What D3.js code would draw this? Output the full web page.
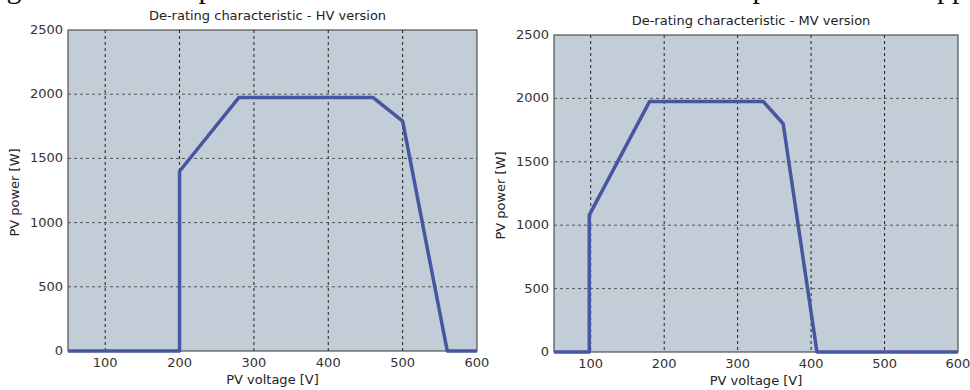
<!DOCTYPE html>
<html>
<head>
<meta charset="utf-8">
<script src="https://cdn.jsdelivr.net/npm/d3@7"></script>
<style>
  body { margin: 0; background: #fff; }
  svg { display: block; }
</style>
</head>
<body>
<svg width="970" height="390"></svg>
<script>
// data
const xTicks = [100, 200, 300, 400, 500, 600];
const yTicks = [0, 500, 1000, 1500, 2000, 2500];
const hvVoltage = [50, 200, 200, 280, 460, 500, 560, 600];
const hvPower = [0, 0, 1400, 1975, 1975, 1790, 0, 0];
const mvVoltage = [50, 98, 98, 180, 335, 362, 408, 600];
const mvPower = [0, 0, 1080, 1975, 1975, 1800, 0, 0];

const svg = d3.select("svg");
const font = "DejaVu Sans, Verdana, sans-serif";

// descenders of the cut-off document line above the charts
const frag = [["g", 14], ["p", 206], ["p", 760], ["pp", 952]];
svg.selectAll("text.frag").data(frag).enter().append("text")
   .attr("class", "frag")
   .attr("x", d => d[1])
   .attr("y", -2)
   .attr("text-anchor", "middle")
   .attr("font-family", "Liberation Serif, serif")
   .attr("font-size", "30px")
   .attr("fill", "#111")
   .text(d => d[0]);

function drawChart(cfg) {
  const x = d3.scaleLinear().domain([50, 600]).range([cfg.left, cfg.right]);
  const y = d3.scaleLinear().domain([0, 2500]).range([cfg.bottom, cfg.top]);
  const g = svg.append("g");

  // plot background
  g.append("rect")
   .attr("x", cfg.left)
   .attr("y", cfg.top)
   .attr("width", cfg.right - cfg.left)
   .attr("height", cfg.bottom - cfg.top)
   .attr("fill", "#c3cdd7");

  // dashed grid
  g.selectAll("line.vg").data(xTicks.filter(d => d < 600)).enter().append("line")
   .attr("x1", d => x(d)).attr("x2", d => x(d))
   .attr("y1", cfg.top).attr("y2", cfg.bottom)
   .attr("stroke", "#222")
   .attr("stroke-dasharray", "3,3");
  g.selectAll("line.hg").data(yTicks.filter(d => d > 0 && d < 2500)).enter().append("line")
   .attr("x1", cfg.left).attr("x2", cfg.right)
   .attr("y1", d => y(d)).attr("y2", d => y(d))
   .attr("stroke", "#555")
   .attr("stroke-dasharray", "3,3");

  // frame
  g.append("rect")
   .attr("x", cfg.left)
   .attr("y", cfg.top)
   .attr("width", cfg.right - cfg.left)
   .attr("height", cfg.bottom - cfg.top)
   .attr("fill", "none")
   .attr("stroke", "#333")
   .attr("stroke-width", 1);

  // curve
  const pts = cfg.xs.map((v, i) => [v, cfg.ys[i]]);
  g.append("path")
   .attr("d", d3.line().x(d => x(d[0])).y(d => y(d[1]))(pts))
   .attr("fill", "none")
   .attr("stroke", "#4656a0")
   .attr("stroke-width", 3.5)
   .attr("stroke-linejoin", "round");

  // tick labels
  g.selectAll("text.xt").data(xTicks).enter().append("text")
   .attr("x", d => x(d))
   .attr("y", cfg.bottom + 16)
   .attr("text-anchor", "middle")
   .attr("font-family", font)
   .attr("font-size", "13px")
   .attr("fill", "#333")
   .text(d => d);
  g.selectAll("text.yt").data(yTicks).enter().append("text")
   .attr("x", cfg.left - 5)
   .attr("y", d => y(d) + 4)
   .attr("text-anchor", "end")
   .attr("font-family", font)
   .attr("font-size", "13px")
   .attr("fill", "#333")
   .text(d => d);

  // titles
  g.append("text")
   .attr("x", (cfg.left + cfg.right) / 2 - 5)
   .attr("y", cfg.top - 10)
   .attr("text-anchor", "middle")
   .attr("font-family", font)
   .attr("font-size", "13px")
   .attr("fill", "#222")
   .text(cfg.title);
  g.append("text")
   .attr("x", (cfg.left + cfg.right) / 2)
   .attr("y", cfg.bottom + 33)
   .attr("text-anchor", "middle")
   .attr("font-family", font)
   .attr("font-size", "13px")
   .attr("fill", "#222")
   .text("PV voltage [V]");
  g.append("text")
   .attr("transform", "translate(" + (cfg.left - 49) + "," + ((cfg.top + cfg.bottom) / 2 + 2) + ") rotate(-90)")
   .attr("text-anchor", "middle")
   .attr("font-family", font)
   .attr("font-size", "13px")
   .attr("fill", "#222")
   .text("PV power [W]");
}

drawChart({
  left: 68, right: 477, top: 30, bottom: 351,
  xs: hvVoltage, ys: hvPower,
  title: "De-rating characteristic - HV version"
});
drawChart({
  left: 554, right: 958, top: 35, bottom: 352,
  xs: mvVoltage, ys: mvPower,
  title: "De-rating characteristic - MV version"
});
</script>
</body>
</html>
